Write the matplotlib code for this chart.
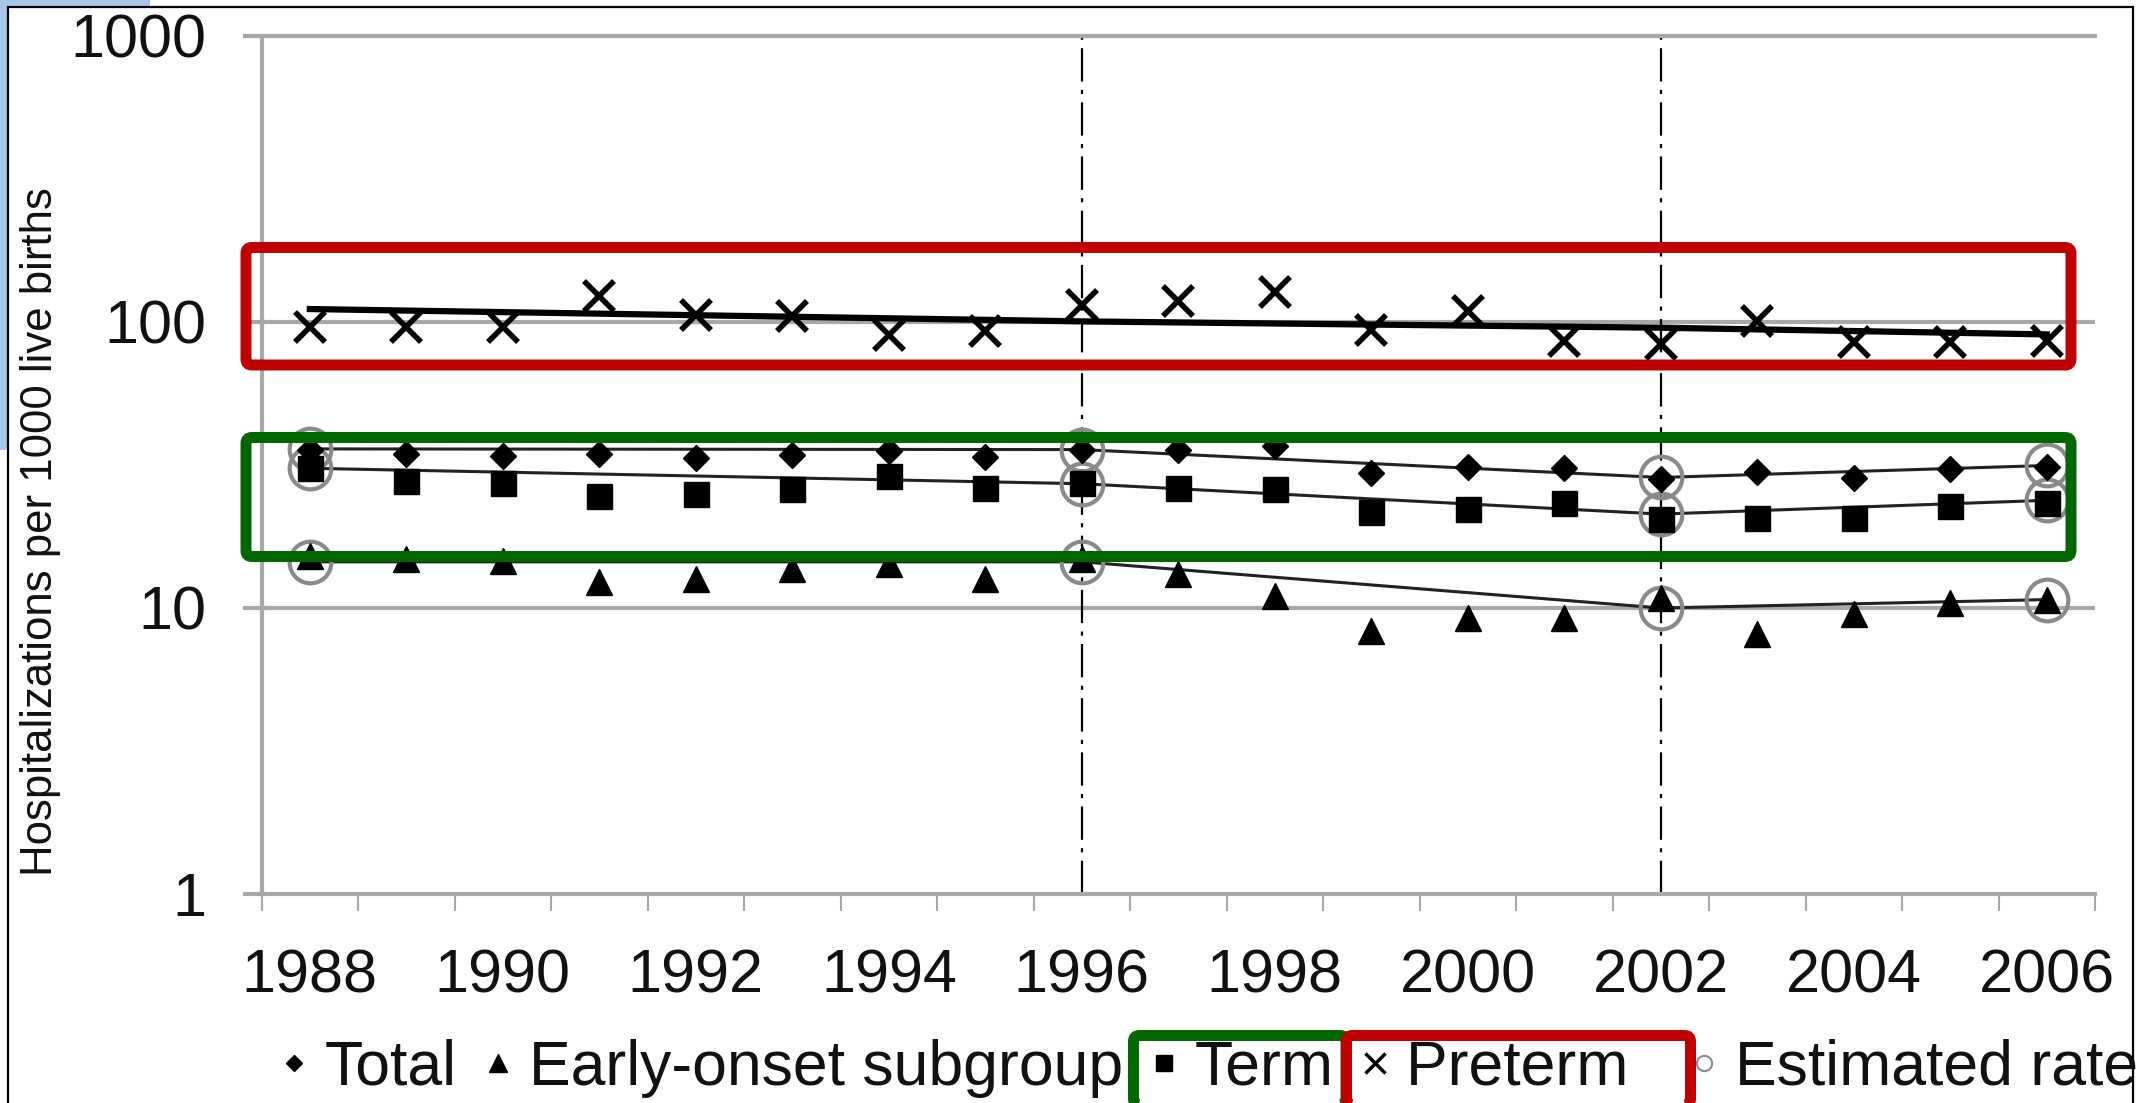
import matplotlib
matplotlib.use('Agg')
import matplotlib.pyplot as plt
from matplotlib.lines import Line2D
from matplotlib.patches import Rectangle, Ellipse, FancyBboxPatch
from matplotlib.transforms import IdentityTransform
from matplotlib.ticker import FixedLocator, NullLocator, FixedFormatter

plt.rcParams['font.family'] = ['Liberation Sans', 'DejaVu Sans']
plt.rcParams['lines.scale_dashes'] = False

# data (hospitalizations per 1000 live births)
years = list(range(1988, 2007))
total = [35.7, 34.5, 34.0, 34.5, 33.4, 34.3, 35.5, 33.6, 35.8, 35.8, 36.8,
         29.6, 31.2, 30.8, 28.2, 29.9, 28.4, 30.5, 31.2]
term = [30.8, 27.8, 27.4, 24.6, 25.0, 26.0, 29.0, 26.2, 27.3, 26.2, 26.1,
        21.6, 22.2, 23.3, 20.5, 20.6, 20.6, 22.8, 23.3]
early = [15.2, 14.8, 14.6, 12.3, 12.6, 13.7, 14.2, 12.6, 14.8, 13.2, 11.0,
         8.3, 9.2, 9.2, 10.8, 8.1, 9.5, 10.4, 10.7]
preterm = [96, 96, 96, 123, 106, 105, 90, 93, 115, 118, 127,
           94, 109, 86, 84, 101, 85, 85, 86]

# joinpoint estimates
est_years = [1988, 1996, 2002, 2006]
est_total = [36.0, 35.8, 28.6, 31.5]
est_term = [30.8, 27.2, 21.3, 23.8]
est_early = [14.5, 14.5, 10.0, 10.7]
est_preterm = [111, 100.5, 95.5, 90.5]

breaks = [1996, 2002]
tick_years = list(range(1988, 2007, 2))
yticks = [1, 10, 100, 1000]

W, H = 2138, 1103
fig = plt.figure(figsize=(W / 100, H / 100), dpi=100)

# slide decoration and frame
fig.patches.append(Ellipse((0, 1), 2 * 150 / W, 2 * 450 / H, transform=fig.transFigure,
                           facecolor='#a8c6e8', edgecolor='none', zorder=-3))
fig.patches.append(Rectangle((8 / W, -0.02), (2133 - 8) / W, 1.02 - 7 / H,
                             transform=fig.transFigure, facecolor='white',
                             edgecolor='black', linewidth=1.6, zorder=-2))

ax = fig.add_axes([261.6 / W, 1 - 894 / H, (2095 - 261.6) / W, (894 - 36) / H])
ax.set_facecolor('none')

grey = '#a8a8a8'
ax.set_yscale('log')
ax.set_ylim(1, 1000)
ax.set_xlim(1987.5, 2006.5)

for v in yticks[1:-1]:
    ax.axhline(v, color=grey, lw=3, zorder=1)
for s in ['left', 'bottom', 'top']:
    ax.spines[s].set_color(grey)
    ax.spines[s].set_linewidth(3)
ax.spines['right'].set_visible(False)

ax.yaxis.set_major_locator(FixedLocator(yticks))
ax.yaxis.set_major_formatter(FixedFormatter([str(v) for v in yticks]))
ax.yaxis.set_minor_locator(NullLocator())
ax.tick_params(axis='y', which='major', direction='out', length=14, width=3,
               color=grey, labelsize=44, pad=26, labelcolor='#111111')

ax.xaxis.set_major_locator(FixedLocator(tick_years))
ax.xaxis.set_major_formatter(FixedFormatter([str(y) for y in tick_years]))
ax.xaxis.set_minor_locator(FixedLocator([y - 0.5 for y in years] + [years[-1] + 0.5]))
ax.tick_params(axis='x', which='major', length=0, labelsize=44, pad=39, labelcolor='#111111')
ax.tick_params(axis='x', which='minor', direction='out', length=12, width=1.5, color=grey)

ax.set_ylabel('Hospitalizations per 1000 live births', fontsize=31.5, color='#111111')
ax.yaxis.set_label_coords(61 / W, 1 - 531.5 / H, transform=fig.transFigure)

for b in breaks:
    ax.axvline(b, color='black', lw=1.6, dashes=(24, 6, 3, 6), zorder=2)

# fitted lines
ax.plot(est_years, est_preterm, color='black', lw=4.5, zorder=3)
for est in [est_total, est_term, est_early]:
    ax.plot(est_years, est, color='#222222', lw=2.2, zorder=3)
    ax.plot(est_years, est, ls='none', marker='o', ms=30, mfc='none',
            mec='#8a8a8a', mew=3, zorder=4)

# observed rates
ax.plot(years, total, ls='none', marker='D', ms=13, color='black', zorder=5)
ax.plot(years, term, ls='none', marker='s', ms=18, color='black', zorder=5)
ax.plot(years, early, ls='none', marker='^', ms=19, color='black', zorder=5)
ax.plot(years, preterm, ls='none', marker='x', ms=21, mew=4, color='black', zorder=5)

handles = [
    Line2D([0], [0], ls='none', marker='D', ms=8.5, color='black'),
    Line2D([0], [0], ls='none', marker='^', ms=13, color='black'),
    Line2D([0], [0], ls='none', marker='s', ms=11, color='black'),
    Line2D([0], [0], ls='none', marker='x', ms=14, mew=2.5, color='black'),
    Line2D([0], [0], ls='none', marker='o', ms=11, mfc='none', mec='#8a8a8a', mew=1.5),
]
labels = ['Total', 'Early-onset subgroup', 'Term', 'Preterm  ', 'Estimated rate']
fig.legend(handles, labels, loc='center left', bbox_to_anchor=(275 / W, 1 - 1068 / H),
           ncol=5, frameon=False, fontsize=45, handlelength=0.6, handletextpad=0.2,
           columnspacing=0.35, borderpad=0, borderaxespad=0, labelcolor='#111111')

# highlight boxes
red, green = '#c00000', '#006600'
def box(x0, y0, x1, y1, c):
    fig.patches.append(FancyBboxPatch((x0, H - y1), x1 - x0, y1 - y0,
                                      boxstyle='round,pad=0,rounding_size=6',
                                      transform=IdentityTransform(), facecolor='none',
                                      edgecolor=c, linewidth=7.9, zorder=10))

box(246, 247.5, 2071, 365, red)
box(246, 437.5, 2071, 556.5, green)
box(1133.5, 1035.5, 1346, 1104.5, green)
box(1346.5, 1035.5, 1690.5, 1104.5, red)

fig.savefig('out.png', dpi=100)
